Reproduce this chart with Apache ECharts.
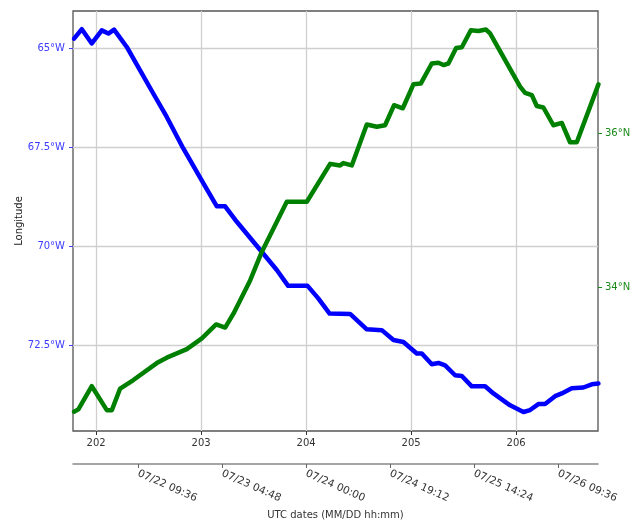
<!DOCTYPE html>
<html>
<head>
<meta charset="utf-8">
<script src="https://cdn.jsdelivr.net/npm/echarts@6/dist/echarts.min.js"></script>
<style>
  html, body { margin: 0; padding: 0; background: #fff; }
  #chart { width: 635px; height: 522px; }
</style>
</head>
<body>
<div id="chart"></div>
<script>
// Track of the float: fractional day of year vs. longitude (deg E, negative = W) and latitude (deg N)
const lonDays = [201.79, 201.864, 201.959, 202.054, 202.117, 202.171, 202.292, 202.419, 202.543, 202.673,
  202.829, 203.022, 203.15, 203.229, 203.34, 203.571, 203.721, 203.829, 204.014, 204.114,
  204.224, 204.419, 204.578, 204.721, 204.832, 204.927, 205.054, 205.102, 205.197, 205.26,
  205.324, 205.419, 205.483, 205.578, 205.705, 205.784, 205.943, 206.07, 206.133, 206.212,
  206.276, 206.371, 206.435, 206.53, 206.641, 206.721, 206.784];
const lonValues = [-64.75, -64.51, -64.87, -64.54, -64.62, -64.52, -64.96, -65.55, -66.13, -66.73,
  -67.52, -68.41, -68.99, -68.99, -69.38, -70.12, -70.60, -71.0, -71.0, -71.31,
  -71.70, -71.71, -72.10, -72.12, -72.37, -72.42, -72.71, -72.71, -72.98, -72.95,
  -73.01, -73.26, -73.28, -73.54, -73.54, -73.72, -74.02, -74.19, -74.14, -73.99,
  -73.99, -73.79, -73.72, -73.59, -73.57, -73.49, -73.47];

const latDays = [201.79, 201.831, 201.959, 202.102, 202.15, 202.229, 202.355, 202.578, 202.673, 202.864,
  203.007, 203.143, 203.229, 203.308, 203.467, 203.578, 203.816, 204.007, 204.229, 204.324,
  204.355, 204.435, 204.578, 204.673, 204.752, 204.838, 204.921, 205.022, 205.092, 205.197,
  205.26, 205.308, 205.355, 205.429, 205.483, 205.569, 205.641, 205.714, 205.752, 206.038,
  206.086, 206.15, 206.197, 206.26, 206.355, 206.435, 206.514, 206.578, 206.784];
const latValues = [32.39, 32.42, 32.72, 32.41, 32.41, 32.69, 32.80, 33.02, 33.09, 33.20,
  33.34, 33.52, 33.48, 33.66, 34.09, 34.46, 35.11, 35.11, 35.60, 35.58,
  35.61, 35.58, 36.11, 36.08, 36.10, 36.36, 36.32, 36.63, 36.64, 36.90,
  36.91, 36.88, 36.90, 37.10, 37.11, 37.33, 37.32, 37.34, 37.29, 36.60,
  36.52, 36.49, 36.35, 36.33, 36.10, 36.13, 35.88, 35.88, 36.63];

// Axis ticks
const dayTicks = [202, 203, 204, 205, 206];
const dateTicks = [202.4, 203.2, 204.0, 204.8, 205.6, 206.4];
const lonTicks = [-65, -67.5, -70, -72.5];
const latTicks = [34, 36];

const dayRange = [201.78, 206.78];
const lonRange = [-74.67, -64.05];
const latRange = [32.14, 37.58];

const pad2 = n => String(n).padStart(2, '0');
function dayToLabel(d) {
  const t = new Date(Date.UTC(2018, 0, 1) + Math.round(d * 1440) * 60000);
  return pad2(t.getUTCMonth() + 1) + '/' + pad2(t.getUTCDate()) + ' ' +
         pad2(t.getUTCHours()) + ':' + pad2(t.getUTCMinutes());
}

const zip = (a, b) => a.map((v, i) => [v, b[i]]);

const FONT = 'DejaVu Sans';
const chart = echarts.init(document.getElementById('chart'), null, { renderer: 'canvas' });

chart.setOption({
  animation: false,
  backgroundColor: '#ffffff',
  grid: {
    left: 73, right: 37, top: 11, bottom: 91,
    outerBoundsMode: 'none', containLabel: false,
    show: true, borderColor: '#555555', borderWidth: 1.3, backgroundColor: 'transparent'
  },
  xAxis: [
    {
      type: 'value', min: dayRange[0], max: dayRange[1], position: 'bottom',
      axisLine: { show: false },
      axisTick: { show: true, length: 4, customValues: dayTicks, lineStyle: { color: '#333' } },
      axisLabel: { customValues: dayTicks, margin: 7, color: '#333', fontFamily: FONT, fontSize: 10,
                   formatter: v => String(Math.round(v)) },
      splitLine: { show: true, lineStyle: { color: '#cfcfcf', width: 1.3 } }
    },
    {
      type: 'value', min: dayRange[0], max: dayRange[1], position: 'bottom', offset: 33,
      name: 'UTC dates (MM/DD hh:mm)', nameLocation: 'middle', nameGap: 44,
      nameTextStyle: { color: '#333', fontFamily: FONT, fontSize: 10 },
      axisLine: { show: true, lineStyle: { color: '#888888', width: 1.5 } },
      axisTick: { show: true, length: 4, customValues: dateTicks, lineStyle: { color: '#666' } },
      axisLabel: { customValues: dateTicks, rotate: -24, margin: 9, color: '#333',
                   fontFamily: FONT, fontSize: 10.5, formatter: dayToLabel },
      splitLine: { show: false }
    }
  ],
  yAxis: [
    {
      type: 'value', min: lonRange[0], max: lonRange[1], position: 'left',
      name: 'Longitude', nameLocation: 'middle', nameGap: 49, nameMoveOverlap: false,
      nameTextStyle: { color: '#222', fontFamily: FONT, fontSize: 10 },
      axisLine: { show: false },
      axisTick: { show: true, length: 4, customValues: lonTicks, lineStyle: { color: '#4040ff' } },
      axisLabel: { customValues: lonTicks, margin: 8, color: '#3b3bff', fontFamily: FONT, fontSize: 10,
                   formatter: v => Math.abs(v) + '°W' },
      splitLine: { show: true, lineStyle: { color: '#cfcfcf', width: 1.3 } }
    },
    {
      type: 'value', min: latRange[0], max: latRange[1], position: 'right',
      axisLine: { show: false },
      axisTick: { show: true, length: 4, customValues: latTicks, lineStyle: { color: '#1a8a1a' } },
      axisLabel: { customValues: latTicks, margin: 7, color: '#1a8a1a', fontFamily: FONT, fontSize: 10,
                   formatter: v => v + '°N' },
      splitLine: { show: false }
    }
  ],
  series: [
    {
      name: 'Longitude', type: 'line', xAxisIndex: 0, yAxisIndex: 0,
      data: zip(lonDays, lonValues), showSymbol: false, smooth: false,
      lineStyle: { color: '#0000ff', width: 4.5, join: 'round', cap: 'round' }
    },
    {
      name: 'Latitude', type: 'line', xAxisIndex: 0, yAxisIndex: 1,
      data: zip(latDays, latValues), showSymbol: false, smooth: false,
      lineStyle: { color: '#008000', width: 4.5, join: 'round', cap: 'round' }
    }
  ]
});
</script>
</body>
</html>
